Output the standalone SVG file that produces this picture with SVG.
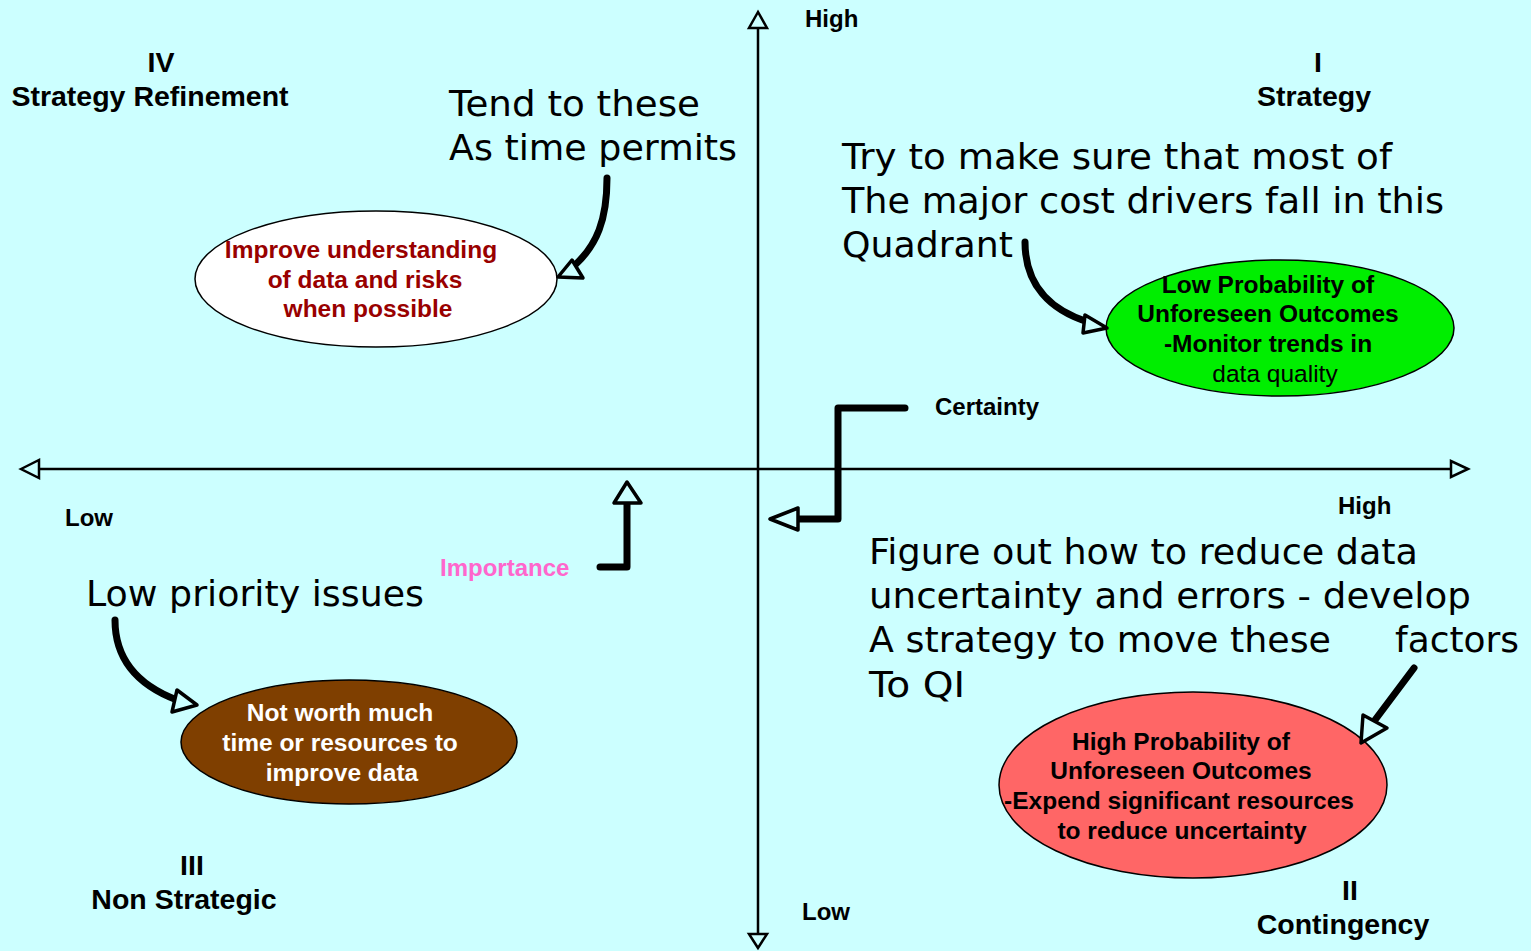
<svg xmlns="http://www.w3.org/2000/svg" width="1531" height="951" viewBox="0 0 1531 951">
<style>
.bg{fill:#CCFFFF}
.axis{stroke:#000;stroke-width:2.5;fill:none}
.ahead{fill:#CCFFFF;stroke:#000;stroke-width:2.5;stroke-linejoin:miter}
.conn{stroke:#000;stroke-width:7;fill:none;stroke-linecap:round;stroke-linejoin:round}
.head{fill:#CCFFFF;stroke:#000;stroke-width:3.5;stroke-linejoin:round}
.lbl{font-family:"Liberation Sans",Arial,sans-serif;font-weight:bold;font-size:28.5px;fill:#000;text-anchor:middle}
.sm{font-family:"Liberation Sans",Arial,sans-serif;font-weight:bold;font-size:24px;fill:#000}
.big{font-family:"DejaVu Sans",Verdana,sans-serif;font-size:36px;fill:#000}
.el{stroke:#000;stroke-width:1.5}
.et{font-family:"Liberation Sans",Arial,sans-serif;font-weight:bold;font-size:24.5px;text-anchor:middle}
</style>
<rect class="bg" x="0" y="0" width="1531" height="951"/>
<g id="axes">
<line class="axis" x1="758" y1="28" x2="758" y2="934"/>
<line class="axis" x1="39" y1="469" x2="1451" y2="469"/>
<polygon class="ahead" points="758,12 749,28 767,28"/>
<polygon class="ahead" points="758,948 749,934 767,934"/>
<polygon class="ahead" points="21,469 39,460 39,478"/>
<polygon class="ahead" points="1468,469 1451,461 1451,477"/>
</g>
<g id="axis-labels">
<text class="sm" x="805" y="27">High</text>
<text class="sm" x="802" y="920">Low</text>
<text class="sm" x="65" y="526">Low</text>
<text class="sm" x="1338" y="514">High</text>
<text class="sm" x="935" y="415">Certainty</text>
<text class="sm" x="440" y="576" style="fill:#FF66CC">Importance</text>
</g>
<g id="quadrant-IV">
<text class="lbl" x="161" y="72">IV</text>
<text class="lbl" x="150" y="106">Strategy Refinement</text>
</g>
<g id="quadrant-I">
<text class="lbl" x="1318" y="72">I</text>
<text class="lbl" x="1314" y="106">Strategy</text>
</g>
<g id="quadrant-III">
<text class="lbl" x="192" y="875">III</text>
<text class="lbl" x="184" y="909">Non Strategic</text>
</g>
<g id="quadrant-II">
<text class="lbl" x="1350" y="900">II</text>
<text class="lbl" x="1343" y="934">Contingency</text>
</g>
<g id="note-tend">
<text class="big" x="449" y="116" textLength="251" lengthAdjust="spacingAndGlyphs">Tend to these</text>
<text class="big" x="449" y="160" textLength="288" lengthAdjust="spacingAndGlyphs">As time permits</text>
</g>
<g id="note-try">
<text class="big" x="842" y="169" textLength="550" lengthAdjust="spacingAndGlyphs">Try to make sure that most of</text>
<text class="big" x="842" y="213" textLength="602" lengthAdjust="spacingAndGlyphs">The major cost drivers fall in this</text>
<text class="big" x="842" y="257" textLength="171" lengthAdjust="spacingAndGlyphs">Quadrant</text>
</g>
<g id="note-figure">
<text class="big" x="869" y="564" textLength="549" lengthAdjust="spacingAndGlyphs">Figure out how to reduce data</text>
<text class="big" x="869" y="608" textLength="602" lengthAdjust="spacingAndGlyphs">uncertainty and errors - develop</text>
<text class="big" x="869" y="652" textLength="462" lengthAdjust="spacingAndGlyphs">A strategy to move these</text>
<text class="big" x="1395" y="652" textLength="124" lengthAdjust="spacingAndGlyphs">factors</text>
<text class="big" x="869" y="697" textLength="96" lengthAdjust="spacingAndGlyphs">To QI</text>
</g>
<g id="note-low">
<text class="big" x="86" y="606" textLength="338" lengthAdjust="spacingAndGlyphs">Low priority issues</text>
</g>
<g id="node-improve">
<ellipse class="el" cx="376" cy="279" rx="181" ry="68" fill="#FFFFFF"/>
<text class="et" x="361" y="258" fill="#990000">Improve understanding</text>
<text class="et" x="365" y="288" fill="#990000">of data and risks</text>
<text class="et" x="368" y="317" fill="#990000">when possible</text>
</g>
<g id="node-low-prob">
<ellipse class="el" cx="1280" cy="328" rx="174" ry="68" fill="#00EE00"/>
<text class="et" x="1268" y="293" fill="#000">Low Probability of</text>
<text class="et" x="1268" y="322" fill="#000">Unforeseen Outcomes</text>
<text class="et" x="1268" y="352" fill="#000">-Monitor trends in</text>
<text class="et" x="1275" y="382" fill="#000" style="font-weight:normal">data quality</text>
</g>
<g id="node-not-worth">
<ellipse class="el" cx="349" cy="742" rx="168" ry="62" fill="#7F3F00"/>
<text class="et" x="340" y="721" fill="#FFFFFF">Not worth much</text>
<text class="et" x="340" y="751" fill="#FFFFFF">time or resources to</text>
<text class="et" x="342" y="781" fill="#FFFFFF">improve data</text>
</g>
<g id="node-high-prob">
<ellipse class="el" cx="1193" cy="785" rx="194" ry="93" fill="#FF6666"/>
<text class="et" x="1181" y="750" fill="#000">High Probability of</text>
<text class="et" x="1181" y="779" fill="#000">Unforeseen Outcomes</text>
<text class="et" x="1179" y="809" fill="#000">-Expend significant resources</text>
<text class="et" x="1182" y="839" fill="#000">to reduce uncertainty</text>
</g>
<g id="connectors">
<path class="conn" d="M607,178 C607,220 597,245 574,266"/>
<polygon class="head" points="558,277 572,260 583,278"/>
<path class="conn" d="M1025,242 C1025,285 1050,310 1088,322"/>
<polygon class="head" points="1107,328 1085,315 1083,333"/>
<path class="conn" d="M905,408 L838,408 L838,519 L797,519"/>
<polygon class="head" points="770,519 798,508 798,530"/>
<path class="conn" d="M600,567 L627,567 L627,504"/>
<polygon class="head" points="627,482 614,503 641,503"/>
<path class="conn" d="M115,620 C115,662 140,686 177,700"/>
<polygon class="head" points="197,705 177,690 172,712"/>
<path class="conn" d="M1414,668 L1375,720"/>
<polygon class="head" points="1361,743 1363,715 1387,728"/>
</g>
</svg>
